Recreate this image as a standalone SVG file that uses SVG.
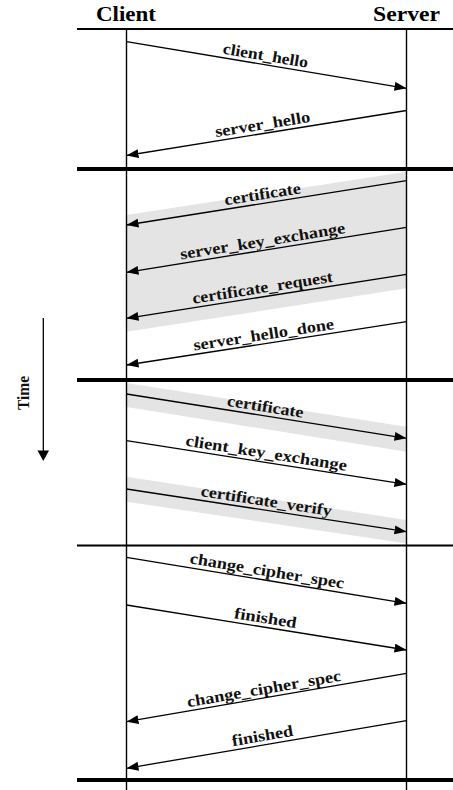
<svg xmlns="http://www.w3.org/2000/svg" width="453" height="790" viewBox="0 0 453 790">
<style>
.hdr{font-family:"Liberation Serif","Times New Roman",serif;font-weight:bold;font-size:21px;fill:#000}
.lbl{font-family:"Liberation Serif","Times New Roman",serif;font-weight:bold;font-size:16px;fill:#111;text-anchor:middle}
.msg{stroke:#000;stroke-width:1.3;fill:none;marker-end:url(#ah)}
.life{stroke:#000;stroke-width:1.4}
.thin{stroke:#000;stroke-width:2}
.thick{stroke:#000;stroke-width:4}
.band{fill:#e4e4e4}
</style>
<defs>
<marker id="ah" markerUnits="userSpaceOnUse" markerWidth="13" markerHeight="10" refX="12" refY="4.5" orient="auto">
<path d="M0,0 L12,4.5 L0,9 z" fill="#000"/>
</marker>
</defs>
<rect width="453" height="790" fill="#fff"/>
<g id="bands">
<polygon class="band" points="126.5,215 406.5,171.7 406.5,288.3 126.5,331.7"/>
<polygon class="band" points="126.5,383 406.5,426.7 406.5,451.7 126.5,407"/>
<polygon class="band" points="126.5,476.7 406.5,520 406.5,543.5 126.5,501.7"/>
</g>
<g id="client"><text class="hdr" x="96" y="21" textLength="60" lengthAdjust="spacingAndGlyphs">Client</text><line class="life" x1="126.5" y1="29" x2="126.5" y2="790"/></g>
<g id="server"><text class="hdr" x="373" y="21" textLength="67" lengthAdjust="spacingAndGlyphs">Server</text><line class="life" x1="406.5" y1="29" x2="406.5" y2="790"/></g>
<g id="separators">
<line class="thin" x1="77" y1="29" x2="453" y2="29"/>
<line class="thick" x1="77" y1="169" x2="453" y2="169"/>
<line class="thick" x1="77" y1="380" x2="453" y2="380"/>
<line class="thin" x1="77" y1="545.5" x2="453" y2="545.5"/>
<line class="thick" x1="77" y1="780" x2="453" y2="780"/>
</g>
<g id="time">
<line x1="43.3" y1="318" x2="43.3" y2="452" stroke="#000" stroke-width="1.3"/>
<path d="M37.5,450.5 L49,450.5 L43.3,461 z" fill="#000"/>
<text class="lbl" transform="translate(28.5,393) rotate(-90)" textLength="34" lengthAdjust="spacingAndGlyphs">Time</text>
</g>
<g id="connectors">
<line class="msg" x1="126.5" y1="41.7" x2="406.5" y2="88.3"/>
<line class="msg" x1="406.5" y1="110.5" x2="126.5" y2="155.5"/>
<line class="msg" x1="406.5" y1="180.7" x2="126.5" y2="225"/>
<line class="msg" x1="406.5" y1="227.3" x2="126.5" y2="272.3"/>
<line class="msg" x1="406.5" y1="274.3" x2="126.5" y2="318.3"/>
<line class="msg" x1="406.5" y1="321.7" x2="126.5" y2="365"/>
<line class="msg" x1="126.5" y1="394" x2="406.5" y2="438.3"/>
<line class="msg" x1="126.5" y1="440.7" x2="406.5" y2="484.3"/>
<line class="msg" x1="126.5" y1="489" x2="406.5" y2="531.7"/>
<line class="msg" x1="126.5" y1="557.3" x2="406.5" y2="603.3"/>
<line class="msg" x1="126.5" y1="605" x2="406.5" y2="650"/>
<line class="msg" x1="406.5" y1="673.3" x2="126.5" y2="721.7"/>
<line class="msg" x1="406.5" y1="720.7" x2="126.5" y2="768.3"/>
</g>
<g id="labels">
<text class="lbl" transform="translate(264,64.6) rotate(9.45)" y="-4" textLength="86" lengthAdjust="spacingAndGlyphs">client_hello</text>
<text class="lbl" transform="translate(264,133.4) rotate(-9.13)" y="-4" textLength="96" lengthAdjust="spacingAndGlyphs">server_hello</text>
<text class="lbl" transform="translate(264,203.2) rotate(-8.99)" y="-4" textLength="77" lengthAdjust="spacingAndGlyphs">certificate</text>
<text class="lbl" transform="translate(264,250.2) rotate(-9.13)" y="-4" textLength="167" lengthAdjust="spacingAndGlyphs">server_key_exchange</text>
<text class="lbl" transform="translate(264,296.7) rotate(-8.93)" y="-4" textLength="142" lengthAdjust="spacingAndGlyphs">certificate_request</text>
<text class="lbl" transform="translate(265,343.7) rotate(-8.79)" y="-4" textLength="142" lengthAdjust="spacingAndGlyphs">server_hello_done</text>
<text class="lbl" transform="translate(264,415.7) rotate(8.99)" y="-4" textLength="77" lengthAdjust="spacingAndGlyphs">certificate</text>
<text class="lbl" transform="translate(265,462.1) rotate(8.85)" y="-4" textLength="163" lengthAdjust="spacingAndGlyphs">client_key_exchange</text>
<text class="lbl" transform="translate(265,510) rotate(8.67)" y="-4" textLength="132" lengthAdjust="spacingAndGlyphs">certificate_verify</text>
<text class="lbl" transform="translate(265.5,579.9) rotate(9.33)" y="-4" textLength="156" lengthAdjust="spacingAndGlyphs">change_cipher_spec</text>
<text class="lbl" transform="translate(264,627.1) rotate(9.13)" y="-4" textLength="63" lengthAdjust="spacingAndGlyphs">finished</text>
<text class="lbl" transform="translate(265.5,697.9) rotate(-9.81)" y="-4" textLength="156" lengthAdjust="spacingAndGlyphs">change_cipher_spec</text>
<text class="lbl" transform="translate(264,744.9) rotate(-9.65)" y="-4" textLength="62" lengthAdjust="spacingAndGlyphs">finished</text>
</g>
</svg>
